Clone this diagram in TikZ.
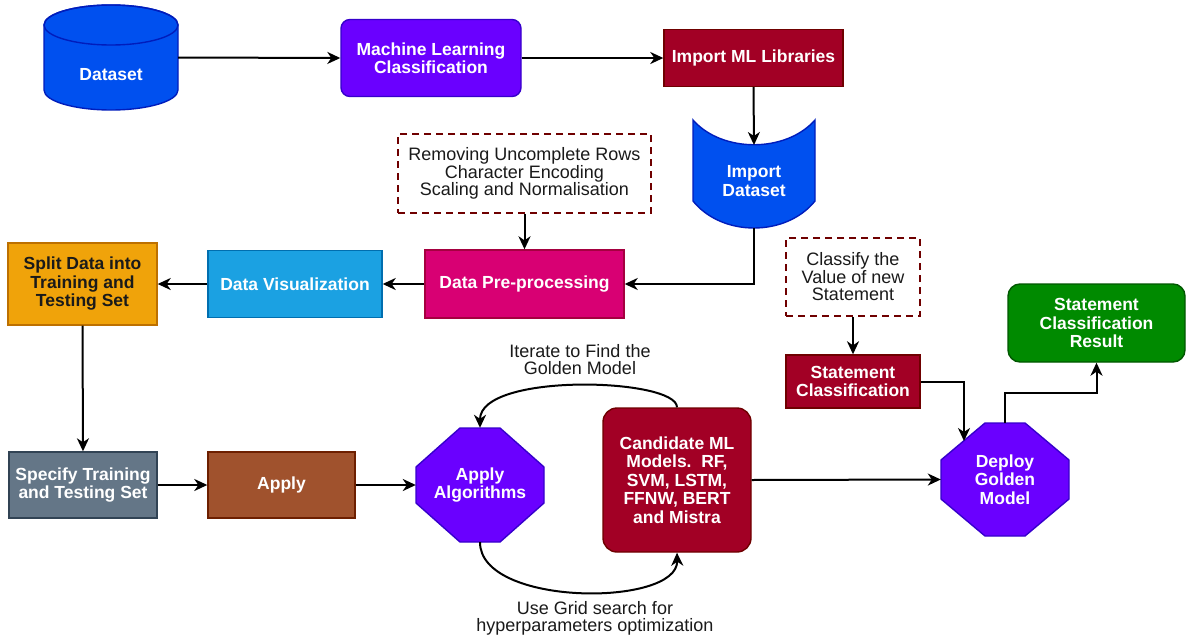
\documentclass[tikz,border=0pt]{standalone}
\usepackage{fontspec}
\setmainfont{Liberation Sans}
\usetikzlibrary{arrows.meta}

\definecolor{dsfill}{HTML}{0050EF}
\definecolor{dsline}{HTML}{001DBC}
\definecolor{vfill}{HTML}{6A00FF}
\definecolor{vline}{HTML}{3700CC}
\definecolor{rfill}{HTML}{A20025}
\definecolor{rline}{HTML}{6F0000}
\definecolor{mfill}{HTML}{D80073}
\definecolor{mline}{HTML}{A50040}
\definecolor{cfill}{HTML}{1BA1E2}
\definecolor{cline}{HTML}{006EAF}
\definecolor{ofill}{HTML}{F0A30A}
\definecolor{oline}{HTML}{BD7000}
\definecolor{sfill}{HTML}{647687}
\definecolor{sline}{HTML}{314354}
\definecolor{bfill}{HTML}{A0522D}
\definecolor{bline}{HTML}{6D1F00}
\definecolor{gfill}{HTML}{008A00}
\definecolor{gline}{HTML}{005700}
\definecolor{txtdark}{HTML}{1A1A1A}

\newcommand\bxfont{\fontsize{17.5}{18.5}\selectfont\bfseries}
\newcommand\rgfont{\fontsize{18}{17.5}\selectfont}

\begin{document}
\begin{tikzpicture}[x=1pt,y=-1pt,
  flow/.style={line width=2pt, -{Stealth[length=13pt,width=12pt,inset=4pt]}},
  box/.style={rectangle, draw, line width=1.4pt, inner sep=0pt, align=center,
    text=white, font=\bxfont},
  note/.style={rectangle, draw=rline, dash pattern=on 7pt off 5pt, line width=1.6pt,
    fill=white, inner sep=0pt, align=center, text=txtdark, font=\rgfont},
  caption/.style={inner sep=0pt, align=center, text=txtdark, font=\rgfont},
  holder/.style={inner sep=0pt, align=center, text=white, font=\bxfont},
  shapeline/.style={line width=1.4pt}]

\useasboundingbox (0,0) rectangle (1187,643);
\fill[white] (0,0) rectangle (1187,643);

% ---- cylinder: Dataset
\path[fill=dsfill, draw=dsline, shapeline]
  (44,25) -- (44,90) arc[start angle=180, end angle=0, x radius=67, y radius=20]
  -- (178,25) arc[start angle=0, end angle=-180, x radius=67, y radius=20] -- cycle;
\draw[dsline, shapeline] (111,25) ellipse[x radius=67, y radius=20];
\node[inner sep=0pt, minimum width=134, minimum height=105] (dataset) at (111,57.5) {};
\node[holder] (dslabel) at (111,75) {Dataset};

% ---- top row
\node[box, fill=vfill, draw=vline, rounded corners=9pt, minimum width=180, minimum height=77]
  (ml) at (431,58) {Machine Learning\\Classification};
\node[box, fill=rfill, draw=rline, minimum width=179, minimum height=57]
  (libs) at (753.5,58) {Import ML Libraries};

% ---- curved-edge shape: Import Dataset
\path[fill=dsfill, draw=dsline, shapeline]
  (693,120) .. controls (722,153) and (786,153) .. (815,120)
  -- (815,201) .. controls (786,237) and (722,237) .. (693,201) -- cycle;
\coordinate (idtop) at (754,145);
\coordinate (idbot) at (754,228);
\node[holder] (impds) at (754,181) {Import\\Dataset};

% ---- pre-processing row
\node[note, minimum width=253, minimum height=79] (prepnote) at (524.5,173.5)
  {Removing Uncomplete Rows\\Character Encoding\\Scaling and Normalisation};
\node[box, fill=mfill, draw=mline, minimum width=199, minimum height=68]
  (prep) at (524.5,284) {Data Pre-processing};
\node[box, fill=cfill, draw=cline, minimum width=174, minimum height=67]
  (vis) at (295,284) {Data Visualization};
\node[box, fill=ofill, draw=oline, text=txtdark, minimum width=149, minimum height=82]
  (split) at (82.5,284) {Split Data into\\Training and\\Testing Set};

% ---- bottom row
\node[box, fill=sfill, draw=sline, minimum width=148, minimum height=66]
  (spec) at (83,485) {Specify Training\\and Testing Set};
\node[box, fill=bfill, draw=bline, minimum width=147, minimum height=66]
  (apply) at (281.5,485) {Apply};

% octagon: Apply Algorithms
\path[fill=vfill, draw=vline, shapeline]
  (460,428) -- (500,428) -- (544,467) -- (544,503) -- (500,542) -- (460,542)
  -- (416,503) -- (416,467) -- cycle;
\node[holder, minimum width=128, minimum height=114] (alg) at (480,485) {Apply\\Algorithms};

\node[box, fill=rfill, draw=rline, rounded corners=14pt, minimum width=148, minimum height=144]
  (cand) at (677,480) {Candidate ML\\Models.\ \ RF,\\SVM, LSTM,\\FFNW, BERT\\and Mistra};

% octagon: Deploy Golden Model
\path[fill=vfill, draw=vline, shapeline]
  (985,423) -- (1025,423) -- (1069,460) -- (1069,499) -- (1025,536) -- (985,536)
  -- (941,499) -- (941,460) -- cycle;
\node[holder, minimum width=128, minimum height=113] (deploy) at (1005,479.5)
  {Deploy\\Golden\\Model};

% ---- classification branch
\node[note, minimum width=134, minimum height=78] (clsnote) at (853,277)
  {Classify the\\Value of new\\Statement};
\node[box, fill=rfill, draw=rline, minimum width=134, minimum height=53]
  (stmt) at (853,381.5) {Statement\\Classification};
\node[box, fill=gfill, draw=gline, rounded corners=12pt, minimum width=177, minimum height=78]
  (result) at (1096.5,323) {Statement\\Classification\\Result};

% ---- loop captions
\node[caption] (iterlbl) at (580,359.5) {Iterate to Find the\\Golden Model};
\node[caption] (gridlbl) at (595,618.5) {Use Grid search for\\hyperparameters optimization};

% ---- connectors
\draw[flow] (dataset.east) -- (ml.west);
\draw[flow] (ml.east) -- (libs.west);
\draw[flow] (libs.south) -- (idtop);
\draw[flow] (idbot) |- (prep.east);
\draw[flow] (prepnote.south) -- (prep.north);
\draw[flow] (prep.west) -- (vis.east);
\draw[flow] (vis.west) -- (split.east);
\draw[flow] (split.south) -- (spec.north);
\draw[flow] (spec.east) -- (apply.west);
\draw[flow] (apply.east) -- (alg.west);
\draw[flow] (cand.north) .. controls (677,378) and (480,372) .. (alg.north);
\draw[flow] (alg.south) .. controls (480,607) and (678,607) .. (cand.south);
\draw[flow] (cand.east) -- (deploy.west);
\draw[flow] (clsnote.south) -- (stmt.north);
\coordinate (dpin) at (964,441);
\draw[flow] (stmt.east) -| (dpin);
\coordinate (dpup) at (1005,393);
\draw[flow] (deploy.north) -- (dpup) -| (result.south);

\end{tikzpicture}
\end{document}
